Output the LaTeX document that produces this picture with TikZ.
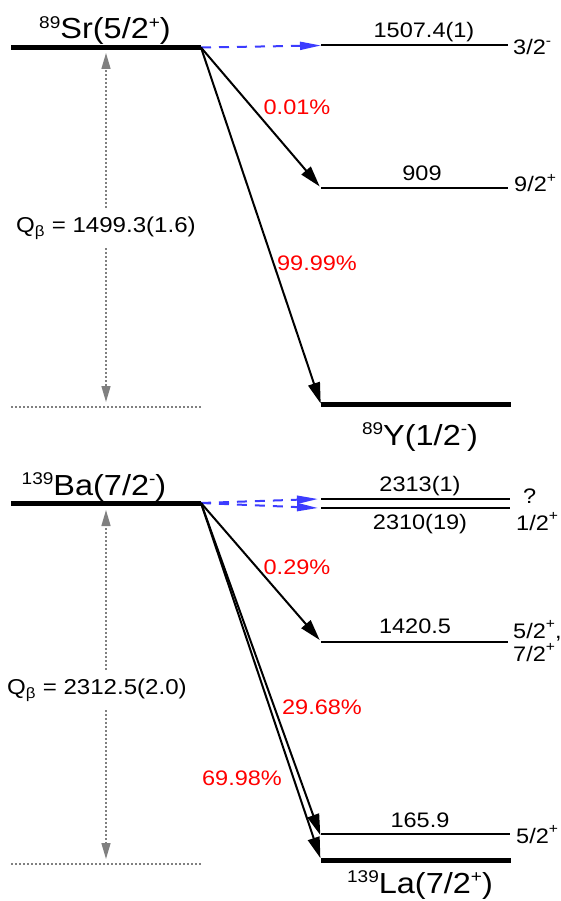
\documentclass[tikz,border=0pt]{standalone}
\usepackage{fontspec}
\setmainfont{Liberation Sans}[FakeStretch=1.12]
\usetikzlibrary{arrows.meta}
\definecolor{myblue}{RGB}{60,60,255}
\definecolor{mygray}{RGB}{128,128,128}
\definecolor{myred}{RGB}{255,0,0}
\newcommand\nucsup[1]{\raisebox{0.36em}{\fontsize{17}{18}\selectfont #1}}
\newcommand\spinsup[1]{\raisebox{0.45em}{\fontsize{14}{14}\selectfont #1}}
\tikzset{
 thinlevel/.style={line width=2pt},
 thicklevel/.style={line width=5pt},
 lvltext/.style={font=\fontsize{21}{24}\selectfont, inner sep=0pt, anchor=base},
 spintext/.style={font=\fontsize{21}{24}\selectfont, inner sep=0pt, anchor=base west},
 nuctext/.style={font=\fontsize{29}{32}\selectfont, inner sep=0pt, anchor=base},
 pct/.style={font=\fontsize{21}{24}\selectfont, text=myred, inner sep=0pt},
 decay/.style={line width=2pt, -{Triangle[length=21pt,width=12pt]}},
 ecdecay/.style={myblue, line width=2pt, dash pattern=on 10pt off 8pt, -{Triangle[length=21pt,width=8pt]}},
 qarrow/.style={mygray, line width=1.5pt, dash pattern=on 2pt off 2pt, -{Triangle[length=16pt,width=9pt]}},
 qbase/.style={mygray, line width=1.5pt, dash pattern=on 2pt off 2pt},
 qtext/.style={font=\fontsize{21.5}{24}\selectfont, inner xsep=2pt, inner ysep=9pt}
}
\begin{document}
\begin{tikzpicture}[x=1pt,y=-1pt]
\useasboundingbox (0,0) rectangle (561,901);
% ---------- top: 89Sr ----------
\coordinate (srL) at (11,47.5);
\coordinate (srR) at (201,47.5);
\coordinate (aL) at (321,45.5);
\coordinate (aR) at (508,45.5);
\coordinate (bL) at (321,188);
\coordinate (bR) at (508,188);
\coordinate (yL) at (321,404.5);
\coordinate (yR) at (511,404.5);
\coordinate (sbL) at (11,407);
\coordinate (sbR) at (201,407);
\coordinate (q1top) at (106,53);
\coordinate (q1bot) at (106,402);
\draw[thicklevel] (srL) -- (srR);
\draw[thinlevel] (aL) -- (aR);
\draw[thinlevel] (bL) -- (bR);
\draw[thicklevel] (yL) -- (yR);
\draw[qbase] (sbL) -- (sbR);
\node[nuctext] (srlab) at (105,39) {\nucsup{89}Sr(5/2\nucsup{+})};
\node[lvltext] (alab) at (424,38) {1507.4(1)};
\node[spintext] (aspin) at (513,55) {3/2\spinsup{-}};
\node[lvltext] (blab) at (422,181) {909};
\node[spintext] (bspin) at (514,192) {9/2\spinsup{+}};
\node[nuctext] (ylab) at (420,445) {\nucsup{89}Y(1/2\nucsup{-})};
\node[qtext] (q1) at (106,228) {Q\textsubscript{β} = 1499.3(1.6)};
\draw[qarrow] (q1) -- (q1top);
\draw[qarrow] (q1) -- (q1bot);
\draw[ecdecay] (srR) -- (aL);
\draw[decay, shorten >=2pt] (srR) -- (bL);
\draw[decay, shorten >=1pt] (srR) -- (yL);
\node[pct] (p1) at (297,107) {0.01\%};
\node[pct] (p2) at (317,263) {99.99\%};
% ---------- bottom: 139Ba ----------
\coordinate (baL) at (11,503);
\coordinate (baR) at (201,503);
\coordinate (cL) at (321,499);
\coordinate (cR) at (510,499);
\coordinate (dL) at (321,508);
\coordinate (dR) at (510,508);
\coordinate (eL) at (321,641.5);
\coordinate (eR) at (508,641.5);
\coordinate (fL) at (321,834);
\coordinate (fR) at (510,834);
\coordinate (laL) at (321,860);
\coordinate (laR) at (511,860);
\coordinate (bbL) at (11,864);
\coordinate (bbR) at (201,864);
\coordinate (q2top) at (106,510);
\coordinate (q2bot) at (106,859);
\draw[thicklevel] (baL) -- (baR);
\draw[thinlevel] (cL) -- (cR);
\draw[thinlevel] (dL) -- (dR);
\draw[thinlevel] (eL) -- (eR);
\draw[thinlevel] (fL) -- (fR);
\draw[thicklevel] (laL) -- (laR);
\draw[qbase] (bbL) -- (bbR);
\node[nuctext] (balab) at (94,495) {\nucsup{139}Ba(7/2\nucsup{-})};
\node[lvltext] (clab) at (420,491) {2313(1)};
\node[lvltext] (dlab) at (420,529) {2310(19)};
\node[spintext] (cspin) at (523,503) {?};
\node[spintext] (dspin) at (516,530) {1/2\spinsup{+}};
\node[lvltext] (elab) at (415,633) {1420.5};
\node[spintext] (espin1) at (513,638) {5/2\spinsup{+},};
\node[spintext] (espin2) at (513,661) {7/2\spinsup{+}};
\node[lvltext] (flab) at (420,827) {165.9};
\node[spintext] (fspin) at (516,843) {5/2\spinsup{+}};
\node[nuctext] (lalab) at (420,893) {\nucsup{139}La(7/2\nucsup{+})};
\node[qtext] (q2) at (97,690) {Q\textsubscript{β} = 2312.5(2.0)};
\draw[qarrow] (q2top |- q2.north) -- (q2top);
\draw[qarrow] (q2bot |- q2.south) -- (q2bot);
\draw[ecdecay] (baR) -- ([xshift=-3pt]cL);
\draw[ecdecay] (baR) -- ([xshift=-3pt]dL);
\draw[decay, shorten >=2pt] (baR) -- (eL);
\draw[decay, shorten >=2pt] (baR) -- ([yshift=-3pt]fL);
\draw[decay, shorten >=2pt] (baR) -- (laL);
\node[pct] (p3) at (297,567) {0.29\%};
\node[pct] (p4) at (322,707) {29.68\%};
\node[pct] (p5) at (242,778) {69.98\%};
\end{tikzpicture}
\end{document}
